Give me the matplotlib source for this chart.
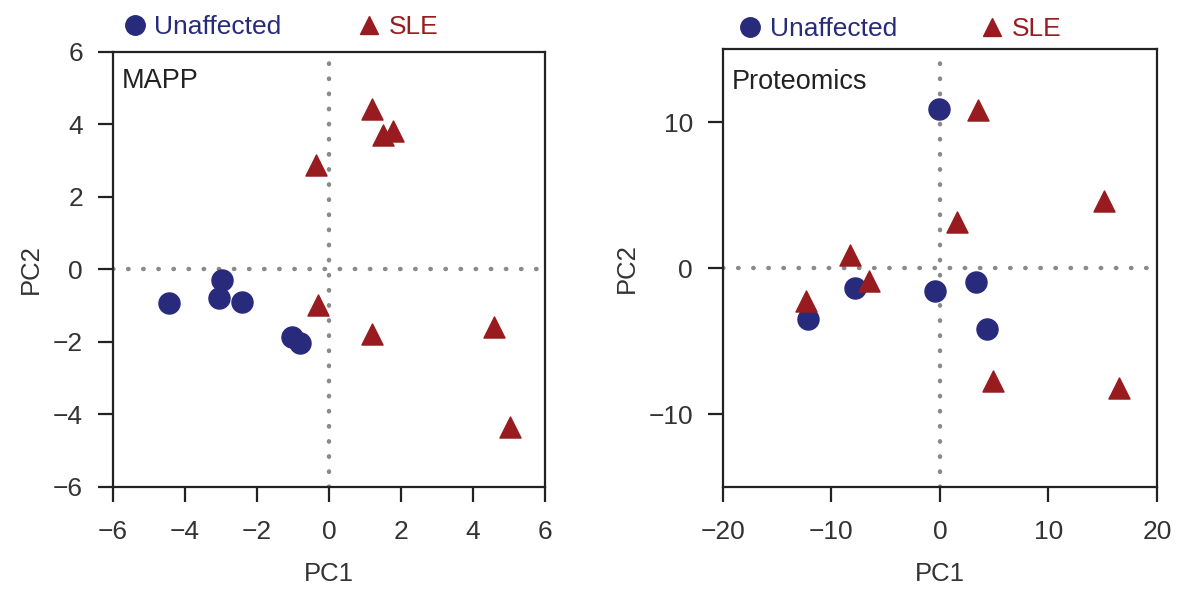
import numpy as np
import matplotlib.pyplot as plt
from matplotlib.lines import Line2D

plt.rcParams['font.family'] = ['Liberation Sans', 'DejaVu Sans']

NAVY = '#282a7c'
RED = '#981c1f'

# MAPP panel
mapp_unaff_x = [-4.44, -2.96, -3.06, -2.41, -1.02, -0.81]
mapp_unaff_y = [-0.93, -0.30, -0.79, -0.91, -1.85, -2.02]
mapp_sle_x = [1.21, 1.51, 1.79, -0.36, -0.30, 1.21, 4.58, 5.03]
mapp_sle_y = [4.42, 3.72, 3.82, 2.87, -0.98, -1.78, -1.58, -4.34]

# Proteomics panel
prot_unaff_x = [-0.06, -7.85, -12.16, -0.46, 3.29, 4.31]
prot_unaff_y = [10.87, -1.39, -3.52, -1.55, -0.97, -4.19]
prot_sle_x = [3.54, 15.14, 1.54, -8.31, -6.53, -12.31, 4.86, 16.55]
prot_sle_y = [10.83, 4.58, 3.19, 0.92, -0.86, -2.25, -7.73, -8.24]

fig = plt.figure(figsize=(11.79, 5.9), dpi=100)
ax1 = fig.add_axes([0.0958, 0.1746, 0.3664, 0.7373])
ax2 = fig.add_axes([0.6132, 0.1746, 0.368, 0.742])


def panel(ax, ux, uy, sx, sy, lim_x, lim_y, ticks_x, ticks_y, title,
          leg_xy, colsp, title_y):
    ax.axhline(0, color='#8a8a8a', lw=3.2, linestyle=(0, (0.1, 3.3)),
               dash_capstyle='round', zorder=1)
    ax.axvline(0, color='#8a8a8a', lw=3.2, linestyle=(0, (0.1, 3.3)),
               dash_capstyle='round', zorder=1)
    ax.scatter(ux, uy, s=230, marker='o', color=NAVY, zorder=3)
    ax.scatter(sx, sy, s=230, marker='^', color=RED, zorder=3)
    ax.set_xlim(lim_x)
    ax.set_ylim(lim_y)
    ax.set_xticks(ticks_x)
    ax.set_yticks(ticks_y)
    ax.set_xticklabels([str(t).replace('-', '\u2212') for t in ticks_x])
    ax.set_yticklabels([str(t).replace('-', '\u2212') for t in ticks_y])
    ax.tick_params(labelsize=19, length=10.5, width=1.6, direction='out',
                   color='#222222', labelcolor='#333333')
    ax.tick_params(axis='x', pad=13)
    ax.tick_params(axis='y', pad=11)
    for sp in ax.spines.values():
        sp.set_linewidth(1.6)
        sp.set_color('#222222')
    ax.set_xlabel('PC1', fontsize=18.5, color='#333333', labelpad=13)
    ax.set_ylabel('PC2', fontsize=18.5, color='#333333', labelpad=7)
    ax.text(0.02, title_y, title, transform=ax.transAxes, fontsize=19.5,
            color='#222222', va='center', ha='left')
    handles = [Line2D([], [], marker='o', color=NAVY, ls='none', markersize=14),
               Line2D([], [], marker='^', color=RED, ls='none', markersize=13)]
    leg = ax.legend(handles, ['Unaffected', 'SLE'], ncol=2, frameon=False,
                    loc='lower left', bbox_to_anchor=leg_xy,
                    fontsize=19, handlelength=1.0, handletextpad=0.25,
                    columnspacing=colsp, borderaxespad=0.0)
    leg.get_texts()[0].set_color(NAVY)
    leg.get_texts()[1].set_color(RED)


panel(ax1, mapp_unaff_x, mapp_unaff_y, mapp_sle_x, mapp_sle_y,
      (-6, 6), (-6, 6), [-6, -4, -2, 0, 2, 4, 6], [-6, -4, -2, 0, 2, 4, 6], 'MAPP',
      (-0.005, 1.006), 2.8, 0.933)
panel(ax2, prot_unaff_x, prot_unaff_y, prot_sle_x, prot_sle_y,
      (-20, 20), (-15, 15), [-20, -10, 0, 10, 20], [-10, 0, 10], 'Proteomics',
      (0.008, 0.995), 3.1, 0.925)

fig.savefig('out.png', dpi=100)
